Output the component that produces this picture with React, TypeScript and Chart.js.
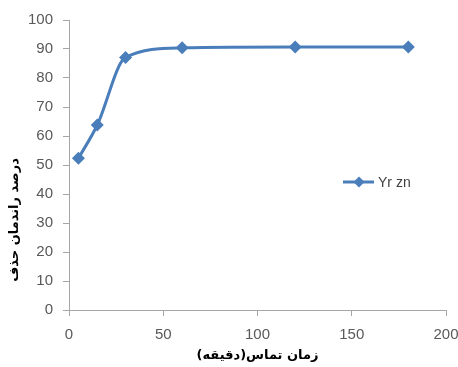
import React, { useEffect, useRef } from "react";
import { Chart, registerables } from "chart.js";

Chart.register(...registerables);

const contactTimes = [5, 15, 30, 60, 120, 180];
const removalPercent = [52.3, 63.8, 87.1, 90.4, 90.7, 90.7];
const seriesLabel = "Yr zn";
const xTitle = "زمان تماس(دقیقه)";
const yTitle = "درصد راندمان حذف";
const xMin = 0, xMax = 200, xStep = 50;
const yMin = 0, yMax = 100, yStep = 10;

const BLUE = "#4a7ebb";
const AXIS = "#a6a6a6";
const TICK_TEXT = "#595959";
const FONT = "'Liberation Sans', Arial, sans-serif";

const overlayPlugin = {
  id: "overlay",
  afterDraw(chart: any) {
    const { ctx, chartArea } = chart;
    ctx.save();
    // Legend (inside plot area)
    const lx = 343, ly = 182;
    ctx.strokeStyle = BLUE;
    ctx.lineWidth = 3;
    ctx.beginPath();
    ctx.moveTo(lx, ly);
    ctx.lineTo(lx + 31, ly);
    ctx.stroke();
    const cx = lx + 16;
    const r = 5.5;
    ctx.fillStyle = BLUE;
    ctx.beginPath();
    ctx.moveTo(cx, ly - r);
    ctx.lineTo(cx + r, ly);
    ctx.lineTo(cx, ly + r);
    ctx.lineTo(cx - r, ly);
    ctx.closePath();
    ctx.fill();
    ctx.fillStyle = "#404040";
    ctx.font = `14px ${FONT}`;
    ctx.textAlign = "left";
    ctx.textBaseline = "middle";
    ctx.fillText(chart.data.datasets[0].label, lx + 35, ly + 1);

    // Axis titles (RTL)
    ctx.direction = "rtl";
    ctx.fillStyle = "#000000";
    ctx.font = `bold 13px 'DejaVu Sans', ${FONT}`;
    ctx.textAlign = "center";
    ctx.textBaseline = "middle";
    ctx.fillText(xTitle, (chartArea.left + chartArea.right) / 2, 356);
    ctx.translate(15, 220);
    ctx.rotate(-Math.PI / 2);
    ctx.fillText(yTitle, 0, 0);
    ctx.restore();
  },
};

export default function App() {
  const canvasRef = useRef<HTMLCanvasElement | null>(null);

  useEffect(() => {
    const canvas = canvasRef.current;
    if (!canvas) return;
    const chart = new Chart(canvas, {
      type: "line",
      data: {
        datasets: [
          {
            label: seriesLabel,
            data: contactTimes.map((x, i) => ({ x, y: removalPercent[i] })),
            borderColor: BLUE,
            backgroundColor: BLUE,
            borderWidth: 3,
            cubicInterpolationMode: "monotone",
            pointStyle: "rectRot",
            pointRadius: 6.5,
            pointHoverRadius: 6.5,
            pointBackgroundColor: BLUE,
            pointBorderColor: BLUE,
            pointBorderWidth: 0,
          },
        ],
      },
      options: {
        responsive: false,
        animation: false,
        layout: { padding: { left: 0, right: 12, top: 20, bottom: 0 } },
        plugins: {
          legend: { display: false },
          tooltip: { enabled: false },
        },
        scales: {
          x: {
            type: "linear",
            min: xMin,
            max: xMax,
            ticks: {
              stepSize: xStep,
              color: TICK_TEXT,
              font: { family: FONT, size: 15 },
              padding: 10,
              maxRotation: 0,
            },
            grid: {
              drawOnChartArea: false,
              drawTicks: true,
              tickLength: 6,
              color: AXIS,
            },
            border: { color: AXIS, width: 1 },
            afterFit(scale: any) {
              scale.height = 57;
              scale.paddingLeft = 0;
              scale.paddingRight = 0;
            },
          },
          y: {
            type: "linear",
            min: yMin,
            max: yMax,
            ticks: {
              stepSize: yStep,
              color: TICK_TEXT,
              font: { family: FONT, size: 15 },
              padding: 10,
            },
            grid: {
              drawOnChartArea: false,
              drawTicks: true,
              tickLength: 6,
              color: AXIS,
            },
            border: { color: AXIS, width: 1 },
            afterFit(scale: any) {
              scale.width = 69;
              scale.paddingTop = 0;
              scale.paddingBottom = 0;
            },
          },
        },
      },
      plugins: [overlayPlugin],
    });
    return () => chart.destroy();
  }, []);

  return (
    <div style={{ position: "absolute", left: 0, top: 0, width: 458, height: 367, background: "#fff" }}>
      <canvas ref={canvasRef} width={458} height={367} />
    </div>
  );
}
